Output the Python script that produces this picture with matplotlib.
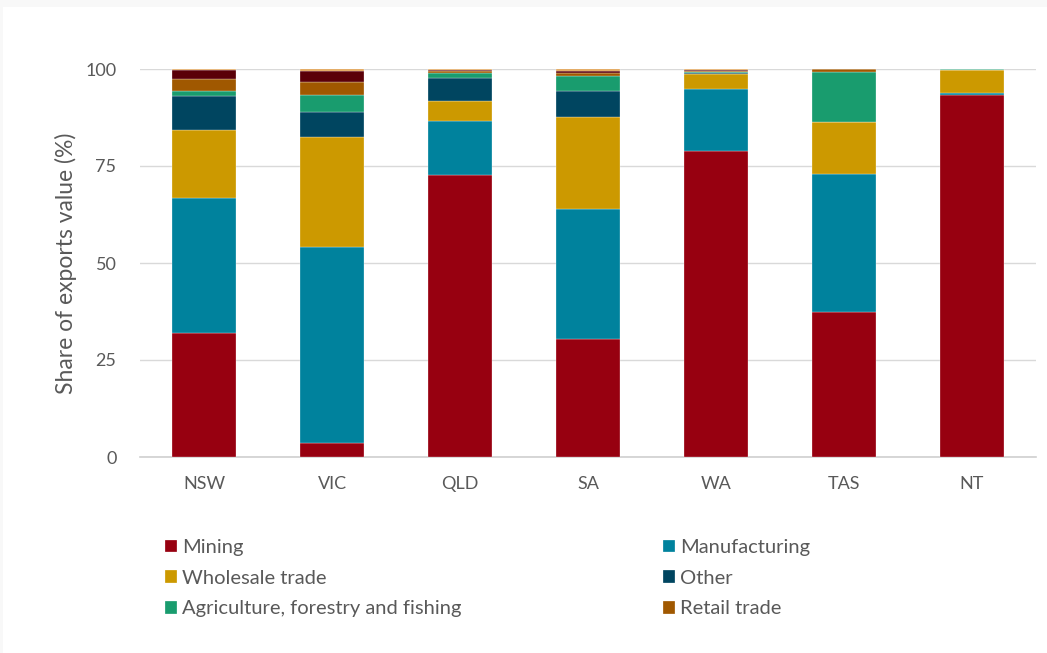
import matplotlib.pyplot as plt
from matplotlib.patches import Rectangle
import numpy as np

states = ['NSW', 'VIC', 'QLD', 'SA', 'WA', 'TAS', 'NT']

# share of exports value (%) by industry, stacked bottom to top
mining = [32.0, 3.6, 72.7, 30.4, 78.9, 37.4, 93.4]
manufacturing = [34.8, 50.5, 13.8, 33.5, 16.0, 35.5, 0.3]
wholesale = [17.5, 28.4, 5.3, 23.7, 3.7, 13.4, 6.1]
other = [8.7, 6.5, 5.9, 6.8, 0.4, 0.1, 0.0]
agriculture = [1.3, 4.3, 1.2, 3.9, 0.2, 12.8, 0.1]
retail = [3.1, 3.3, 0.7, 0.6, 0.3, 0.7, 0.0]
minor_a = [2.3, 3.0, 0.1, 0.6, 0.2, 0.0, 0.0]
minor_b = [0.3, 0.4, 0.3, 0.5, 0.3, 0.1, 0.1]

series = [
    ('Mining', mining, '#970010'),
    ('Manufacturing', manufacturing, '#00829d'),
    ('Wholesale trade', wholesale, '#cc9900'),
    ('Other', other, '#004560'),
    ('Agriculture, forestry and fishing', agriculture, '#199c6e'),
    ('Retail trade', retail, '#a05800'),
    ('_minor_a', minor_a, '#5a0008'),
    ('_minor_b', minor_b, '#e0a050'),
]

plt.rcParams['font.family'] = ['Lato', 'DejaVu Sans']
text_col = '#595959'

fig = plt.figure(figsize=(10.47, 6.53), dpi=100)
fig.patch.set_facecolor('#f8f8f8')
fig.patches.append(Rectangle((3 / 1047, 0), 1, 1 - 7 / 653, transform=fig.transFigure,
                             facecolor='white', edgecolor='none', zorder=-5))

ax = fig.add_axes([140 / 1047, 1 - 457 / 653, 896 / 1047, 388 / 653])
ax.set_facecolor('none')

x = np.arange(len(states))
bottom = np.zeros(len(states))
handles = []
for name, vals, col in series:
    b = ax.bar(x, vals, 0.5, bottom=bottom, color=col, label=name,
               edgecolor='white', linewidth=0.2, clip_on=False, zorder=3)
    bottom += np.array(vals)
    handles.append(b)

ax.set_xlim(-0.5, len(states) - 0.5)
ax.set_ylim(0, 100)
ax.set_yticks([0, 25, 50, 75, 100])
ax.set_xticks(x)
ax.set_xticklabels(states)
ax.tick_params(axis='both', length=0, labelsize=13, colors=text_col)
ax.tick_params(axis='y', pad=17)
ax.tick_params(axis='x', pad=14)
ax.grid(axis='y', color='#d9d9d9', linewidth=1, zorder=0)
for s in ['top', 'right', 'left']:
    ax.spines[s].set_visible(False)
ax.spines['bottom'].set_color('#d0d0d0')
ax.spines['bottom'].set_linewidth(1.2)
ax.set_ylabel('Share of exports value (%)', fontsize=16.5, color=text_col, labelpad=6)

# legend reads across rows: Mining, Manufacturing / Wholesale, Other / Agriculture, Retail
order = [0, 2, 4, 1, 3, 5]
leg = fig.legend(handles=[handles[i] for i in order],
                 labels=[series[i][0] for i in order],
                 loc='upper left', bbox_to_anchor=(165 / 1047, 1 - 539 / 653),
                 ncol=2, frameon=False, fontsize=14.5, handlelength=0.6,
                 handleheight=0.6, handletextpad=0.25, columnspacing=10,
                 labelspacing=0.68, borderpad=0, borderaxespad=0)
for t in leg.get_texts():
    t.set_color(text_col)

fig.savefig('out.png', dpi=100, facecolor=fig.get_facecolor())
